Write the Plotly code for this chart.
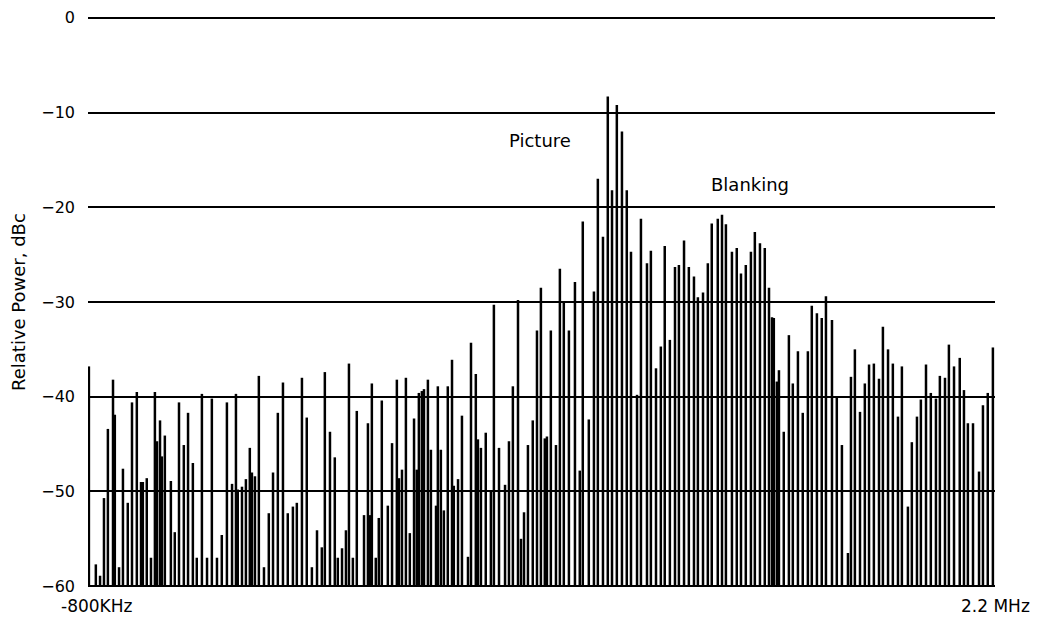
import plotly.graph_objects as go

# Spectral line frequencies (kHz) and relative power levels (dBc)
freq_khz = [
    -800, -777, -763, -750, -737, -720, -714, -700, -687, -671, -657, -641, -627, -621, -608,
    -594, -581, -574, -564, -558, -548, -528, -515, -501, -485, -471, -455, -442, -425, -408,
    -392, -375, -359, -342, -325, -312, -306, -292, -279, -266, -259, -249, -236, -219, -203,
    -189, -173, -156, -140, -123, -110, -93, -77, -60, -43, -27, -17, 0, 16, 26,
    40, 53, 63, 76, 89, 113, 126, 133, 139, 152, 162, 172, 192, 206, 222,
    229, 239, 252, 265, 279, 288, 295, 305, 312, 325, 335, 352, 358, 368, 378,
    391, 405, 411, 425, 438, 458, 468, 484, 491, 501, 517, 534, 544, 561, 581,
    594, 607, 624, 634, 644, 657, 673, 687, 700, 713, 720, 733, 750, 763, 776,
    793, 813, 829, 839, 859, 876, 889, 906, 922, 936, 952, 969, 985, 999, 1019,
    1032, 1052, 1065, 1082, 1098, 1111, 1128, 1145, 1158, 1175, 1191, 1208, 1221, 1238, 1254,
    1267, 1287, 1301, 1314, 1334, 1350, 1364, 1380, 1397, 1410, 1427, 1443, 1457, 1467, 1473,
    1483, 1490, 1506, 1523, 1536, 1553, 1569, 1586, 1599, 1616, 1632, 1646, 1666, 1682, 1699,
    1719, 1729, 1742, 1759, 1775, 1789, 1805, 1822, 1835, 1852, 1868, 1885, 1898, 1918, 1931,
    1948, 1961, 1978, 1994, 2011, 2024, 2041, 2054, 2071, 2090, 2104, 2117, 2134, 2154, 2167,
    2183, 2200,
]
power_dbc = [
    -36.8, -57.7, -58.9, -50.7, -43.4, -38.2, -41.9, -58.0, -47.6, -51.2, -40.6, -39.5, -49.0, -49.0, -48.6,
    -57.0, -39.5, -44.7, -42.5, -46.3, -44.1, -48.9, -54.3, -40.6, -45.1, -41.7, -47.0, -57.0, -39.7, -57.0,
    -40.2, -57.0, -54.6, -40.6, -49.2, -39.7, -49.8, -49.5, -48.7, -45.4, -48.0, -48.4, -37.8, -58.0, -52.3,
    -48.0, -41.7, -38.5, -52.3, -51.6, -51.2, -38.0, -42.2, -58.0, -54.1, -55.9, -37.4, -43.7, -46.4, -57.0,
    -56.0, -54.1, -36.5, -57.0, -41.5, -52.5, -42.8, -52.5, -38.6, -57.0, -52.8, -40.4, -51.5, -44.9, -38.2,
    -48.6, -47.7, -38.0, -54.4, -42.3, -47.7, -39.6, -39.4, -39.2, -38.2, -45.6, -51.5, -38.9, -45.6, -52.0,
    -38.9, -36.1, -49.4, -48.7, -42.0, -56.9, -34.3, -37.6, -44.5, -45.4, -43.8, -50.0, -30.3, -45.4, -49.3,
    -44.7, -38.9, -29.8, -55.0, -52.2, -45.1, -42.5, -33.0, -28.5, -44.4, -44.2, -33.0, -45.1, -26.5, -30.1,
    -33.0, -27.9, -47.8, -21.5, -42.4, -28.9, -17.0, -23.1, -8.3, -18.2, -9.2, -12.0, -18.2, -24.7, -39.8,
    -21.2, -25.9, -24.6, -37.0, -34.7, -24.1, -34.0, -26.3, -26.1, -23.5, -26.3, -27.3, -29.5, -29.0, -25.9,
    -21.7, -21.2, -20.8, -21.8, -24.7, -24.3, -27.0, -26.1, -24.7, -22.6, -23.8, -24.3, -28.5, -31.6, -31.7,
    -38.4, -37.2, -43.7, -33.5, -38.6, -35.2, -41.7, -35.2, -30.4, -31.2, -31.7, -29.4, -31.9, -40.0, -45.1,
    -56.5, -37.9, -35.0, -41.6, -38.6, -36.6, -36.5, -38.1, -32.6, -35.0, -36.5, -42.1, -36.8, -51.6, -44.8,
    -42.1, -40.3, -36.6, -39.6, -40.2, -37.8, -38.0, -34.5, -36.8, -35.9, -39.3, -42.8, -42.8, -47.9, -40.9,
    -39.6, -34.8,
]

floor_db = -60
y_ticks = [0, -10, -20, -30, -40, -50, -60]
x_end_labels = ["-800KHz", "2.2 MHz"]

xs, ys = [], []
for f, p in zip(freq_khz, power_dbc):
    xs += [f, f, None]
    ys += [floor_db, p, None]

fig = go.Figure()
fig.add_trace(go.Scatter(x=xs, y=ys, mode="lines",
                         line=dict(color="black", width=2.5),
                         hoverinfo="skip", showlegend=False))

font_family = "DejaVu Sans, Verdana, sans-serif"

fig.update_layout(
    width=1050, height=627, autosize=False,
    paper_bgcolor="white", plot_bgcolor="white",
    margin=dict(l=88, r=55, t=15, b=38, autoexpand=False),
    font=dict(family=font_family, size=16, color="black"),
    xaxis=dict(range=[-803, 2207], showgrid=False, zeroline=False, showline=False,
               automargin=False, showticklabels=False, ticks=""),
    yaxis=dict(range=[-60.3, 0.3], tickvals=y_ticks, showgrid=True,
               automargin=False,
               gridcolor="black", gridwidth=2, zeroline=False, showline=False,
               ticks="", ticklabelstandoff=12, tickfont=dict(size=16)),
    annotations=[
        dict(text="Relative Power, dBc", xref="paper", yref="paper",
             x=-0.0772, y=0.5, textangle=-90, showarrow=False,
             xanchor="center", yanchor="middle", font=dict(size=18)),
        dict(text="Picture", x=697, y=-12.9, xref="x", yref="y",
             showarrow=False, font=dict(size=18)),
        dict(text="Blanking", x=1394, y=-17.6, xref="x", yref="y",
             showarrow=False, font=dict(size=18)),
        dict(text=x_end_labels[0], xref="paper", yref="paper", x=0.0099, y=-0.0296,
             xanchor="center", yanchor="middle", showarrow=False, font=dict(size=17)),
        dict(text=x_end_labels[1], xref="paper", yref="paper", x=1.0011, y=-0.0296,
             xanchor="center", yanchor="middle", showarrow=False, font=dict(size=17)),
    ],
)

fig.write_html("out.html", config={"displayModeBar": False},
               post_script="document.body.style.margin='0';")
